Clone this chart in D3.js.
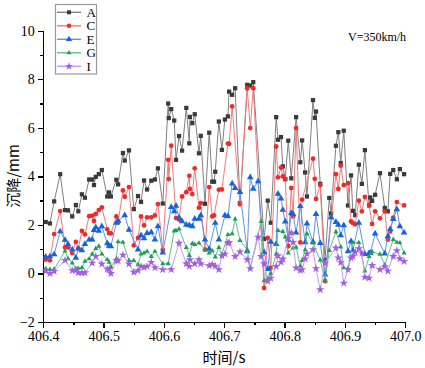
<!DOCTYPE html>
<html lang="zh">
<head>
  <meta charset="UTF-8">
  <title>沉降时程曲线</title>
  <script src="https://d3js.org/d3.v7.min.js"></script>
  <style>
    body { margin: 0; background: #fff; }
    svg { display: block; background: #fff; }
    .axis path,
    .axis line {
      stroke: #000;
      stroke-width: 1.3;
      shape-rendering: crispEdges;
    }
    .axis text {
      font-family: "Liberation Serif", serif;
      font-size: 14px;
      fill: #000;
    }
    .series-line { fill: none; stroke-width: 1; }
    .axis-title {
      font-family: "Noto Sans CJK SC", sans-serif;
      font-size: 15px;
      fill: #000;
    }
    .legend text, .note {
      font-family: "Liberation Serif", serif;
      font-size: 12px;
      fill: #000;
    }
    .legend text { font-size: 13px; }
  </style>
</head>
<body>
  <svg width="425" height="368"></svg>

  <script>
    const width = 425;
    const height = 368;

    // sample times (s)
    const times = [
      406.404, 406.411, 406.418, 406.428, 406.436, 406.441, 406.448, 406.454, 406.458, 406.464,
      406.469, 406.476, 406.481, 406.484, 406.487, 406.492, 406.497, 406.506, 406.509, 406.512,
      406.521, 406.524, 406.532, 406.535, 406.542, 406.550, 406.557, 406.562, 406.567, 406.572,
      406.579, 406.585, 406.590, 406.598, 406.607, 406.608, 406.612, 406.617, 406.620, 406.625,
      406.630, 406.637, 406.642, 406.643, 406.647, 406.651, 406.658, 406.661, 406.668, 406.675,
      406.680, 406.683, 406.685, 406.691, 406.696, 406.701, 406.706, 406.708, 406.713, 406.718,
      406.726, 406.738, 406.743, 406.748, 406.756, 406.761, 406.766, 406.772, 406.777, 406.786,
      406.789, 406.794, 406.797, 406.801, 406.806, 406.811, 406.814, 406.819, 406.826, 406.829,
      406.834, 406.837, 406.847, 406.850, 406.852, 406.859, 406.867, 406.874, 406.877, 406.885,
      406.889, 406.893, 406.898, 406.905, 406.910, 406.913, 406.917, 406.923, 406.928, 406.933,
      406.940, 406.942, 406.945, 406.950, 406.958, 406.966, 406.971, 406.975, 406.980, 406.986,
      406.991, 406.998
    ];

    // settlement (mm), null = no sample for that point
    const seriesA = [
      2.12, 2.06, 2.97, 4.09, 2.61, 2.60, 2.35, 2.82, 2.56, 3.26,
      3.12, 3.87, 3.87, 3.64, 3.98, 4.09, 4.26, 3.17, 3.34, 3.17,
      3.86, 3.67, 4.96, 4.65, 5.07, 2.65, 3.19, 2.95, 3.83, 3.46,
      3.82, 3.87, 4.33, 2.88, 7.00, 6.40, 6.77, 6.30, 4.68, 5.66,
      5.06, 6.82, 5.36, 6.45, 6.19, 6.56, 4.95, 5.67, 2.87, 5.80,
      3.78, 3.78, 4.19, 6.26, 5.09, 6.34, 6.47, 7.49, 7.36, 7.63,
      2.90, 7.77, 7.74, 7.88, null, null, 1.42, 3.00, 2.09, 6.44,
      5.51, 5.62, 4.41, 3.88, 5.47, 3.92, null, 6.44, 4.58, 5.48,
      4.16, 3.17, 7.14, 6.41, 6.67, 3.69, 0.55, 3.11, 2.47, 5.26,
      5.82, 4.55, 5.88, 2.80, 4.04, 2.58, 2.40, 4.48, 3.69, 5.08,
      2.80, 3.13, 2.99, 3.24, 4.13, 2.70, 2.56, 4.10, 4.26, 3.88,
      4.30, 4.09
    ];
    const seriesC = [
      0.57, 0.54, 1.62, 2.57, 1.07, 1.07, 0.84, 1.30, 1.03, 1.75,
      1.61, 2.36, 2.38, 2.16, 2.45, 2.61, 2.72, 1.82, 1.66, 1.65,
      2.35, 2.10, 3.42, 3.16, 3.56, 1.16, 1.46, 2.35, 1.98, 2.31,
      2.31, 2.39, 2.86, 0.97, 4.68, 3.89, 5.26, null, 2.28, 2.22,
      3.17, 3.35, 4.02, 3.48, 3.27, 4.33, 2.71, 2.90, 0.98, 3.56,
      2.35, 2.39, null, 3.45, 3.46, null, 5.35, 5.34, 6.88, null,
      2.85, 7.63, 5.99, 7.63, null, null, -0.60, 1.46, 0.23, 5.23,
      3.96, 4.36, 4.00, 3.90, 1.12, 3.52, 2.35, 5.99, 1.28, 3.04,
      null, null, 4.73, 3.90, 3.07, 3.64, -0.32, null, null, 4.09,
      3.48, 4.44, 3.64, 3.72, 2.14, 2.08, 2.02, 3.00, 2.56, 3.15,
      2.82, null, 2.04, 2.56, 2.27, 2.56, 1.39, 1.73, 2.30, 2.94,
      null, 2.80
    ];
    const seriesE = [
      0.69, 0.70, 0.79, 1.73, 1.38, 1.20, 0.98, 0.64, 1.02, 0.95,
      1.21, 1.39, 1.40, 1.79, 1.90, 1.76, 1.94, 1.24, 1.14, 1.12,
      2.08, 2.17, null, 2.39, 1.80, null, 0.98, 1.57, 1.45, 1.66,
      1.69, 1.40, 1.94, 0.86, null, null, 2.73, 2.56, 2.79, 2.30,
      2.15, 2.00, 1.98, null, 1.94, 2.25, 2.25, 2.39, 1.39, 1.01,
      null, null, 2.08, 1.39, null, 2.39, 2.35, null, 3.70, 3.52,
      3.35, 0.91, 3.96, 3.49, 3.79, null, 0.87, 0.18, 1.30, 1.21,
      3.28, 3.08, 2.62, 2.14, 1.40, 2.49, 2.45, 1.68, 2.77, null,
      1.28, 2.05, 1.30, null, 2.45, 1.25, -0.05, null, 2.31, 2.12,
      2.00, 1.57, 1.98, 0.91, 1.32, 0.95, null, 2.09, null, 0.80,
      0.84, 0.84, null, 1.64, null, 0.82, 1.53, 1.83, 2.24, 2.64,
      1.94, 1.68
    ];
    const seriesG = [
      0.19, 0.16, 0.17, null, 0.92, 0.61, 0.43, 0.19, 0.21, 0.24,
      0.50, 0.60, 0.80, null, 1.03, 1.12, 0.80, 0.57, 0.46, 0.28,
      0.60, 1.31, 1.28, null, 0.53, 0.53, 0.36, 0.80, 0.84, 0.91,
      0.70, 0.91, null, 0.40, 0.40, null, null, 1.75, 1.77, 1.83,
      null, 1.07, 0.74, null, 1.23, 1.19, 1.25, null, 0.98, 0.84,
      0.93, null, 0.68, 1.07, 0.77, null, 1.60, null, 1.64, 2.24,
      1.36, 0.98, 0.23, null, null, 2.14, -0.30, -0.20, 0.00, 0.80,
      1.77, null, 1.73, 1.50, 0.84, null, 1.05, 1.08, 0.31, 0.53,
      0.98, 1.64, 1.25, null, null, 0.55, -0.28, 0.95, null, 1.72,
      null, 1.09, 0.23, 0.20, null, 1.28, null, 1.27, null, 0.10,
      0.70, null, 0.89, null, 0.79, 0.35, null, null, 1.40, 1.28,
      1.26, 0.84
    ];
    const seriesI = [
      0.10, 0.00, 0.09, null, 0.54, null, 0.12, 0.14, 0.03, 0.03,
      0.03, null, 0.43, null, 0.70, null, 0.39, 0.18, 0.17, 0.00,
      0.53, 0.53, 0.76, null, 0.39, 0.05, 0.12, 0.29, 0.25, 0.29,
      0.46, 0.24, null, 0.16, null, null, 0.16, null, null, 1.25,
      null, 0.40, 0.29, 0.57, null, 0.40, 0.57, 0.40, null, 0.32,
      0.37, null, 0.30, 0.16, 0.73, 0.80, 1.25, 1.28, null, 0.70,
      0.89, 0.57, 0.20, null, 1.50, 0.70, 0.40, -0.32, -0.19, 0.29,
      0.73, 0.46, 0.60, null, 1.45, 1.67, 1.28, 0.23, 0.13, 0.16,
      0.60, 0.81, 0.98, null, 0.20, -0.67, 0.43, null, null, 1.05,
      0.64, 0.45, -0.40, 0.16, 0.64, 0.70, 0.87, 1.02, 0.84, -0.15,
      -0.19, null, 0.33, null, 0.16, 0.27, 0.10, null, 0.70, 0.94,
      0.61, 0.50
    ];

    const seriesNames = ["A", "C", "E", "G", "I"];
    const xTicks = [406.4, 406.5, 406.6, 406.7, 406.8, 406.9, 407.0];
    const xMinorTicks = [406.45, 406.55, 406.65, 406.75, 406.85, 406.95];
    const yTicks = [-2, 0, 2, 4, 6, 8, 10];
    const yMinorTicks = [-1, 1, 3, 5, 7, 9];

    const styles = [
      { values: seriesA, mark: "#3a3a3a", line: "#808080", symbol: d3.symbolSquare, size: 18 },
      { values: seriesC, mark: "#ee2b2b", line: "#f27a7a", symbol: d3.symbolCircle, size: 18 },
      { values: seriesE, mark: "#1664d9", line: "#5c95e8", symbol: d3.symbolTriangle, size: 19 },
      { values: seriesG, mark: "#1f9d55", line: "#62bd88", symbol: d3.symbolTriangle2, size: 19 },
      { values: seriesI, mark: "#a45de2", line: "#c69cf0", symbol: d3.symbolStar, size: 22 }
    ];

    const svg = d3.select("svg")
      .attr("width", width)
      .attr("height", height);

    const xScale = d3.scaleLinear().domain([406.4, 407.0]).range([43.3, 405.3]);
    const yScale = d3.scaleLinear().domain([-2, 10]).range([322, 30.7]);

    // minor ticks first, then the major axes on top
    svg.append("g")
      .attr("class", "axis")
      .attr("transform", `translate(0,${yScale(-2)})`)
      .call(d3.axisBottom(xScale).tickValues(xMinorTicks).tickSize(3).tickFormat(""))
      .call(g => g.select(".domain").remove());

    svg.append("g")
      .attr("class", "axis")
      .attr("transform", `translate(${xScale(406.4)},0)`)
      .call(d3.axisLeft(yScale).tickValues(yMinorTicks).tickSize(3).tickFormat(""))
      .call(g => g.select(".domain").remove());

    svg.append("g")
      .attr("class", "axis")
      .attr("transform", `translate(0,${yScale(-2)})`)
      .call(d3.axisBottom(xScale).tickValues(xTicks).tickSize(5.5).tickSizeOuter(0)
        .tickPadding(4).tickFormat(d3.format(".1f")));

    svg.append("g")
      .attr("class", "axis")
      .attr("transform", `translate(${xScale(406.4)},0)`)
      .call(d3.axisLeft(yScale).tickValues(yTicks).tickSize(5.5).tickSizeOuter(0)
        .tickPadding(3).tickFormat(d3.format("d")));

    // lines then markers
    styles.forEach(s => {
      const pts = times.map((t, i) => ({ t: t, v: s.values[i] })).filter(d => d.v !== null);

      const line = d3.line()
        .x(d => xScale(d.t))
        .y(d => yScale(d.v));

      svg.append("path")
        .datum(pts)
        .attr("class", "series-line")
        .attr("stroke", s.line)
        .attr("d", line);

      svg.append("g")
        .selectAll("path")
        .data(pts)
        .join("path")
        .attr("transform", d => `translate(${xScale(d.t)},${yScale(d.v)})`)
        .attr("d", d3.symbol().type(s.symbol).size(s.size))
        .attr("fill", s.mark);
    });

    // legend box
    const legend = svg.append("g").attr("class", "legend");
    legend.append("rect")
      .attr("x", 55.5)
      .attr("y", 4.5)
      .attr("width", 41)
      .attr("height", 69.5)
      .attr("fill", "#fff")
      .attr("stroke", "#9a9a9a")
      .attr("stroke-width", 1.2);

    seriesNames.forEach((name, i) => {
      const s = styles[i];
      const ly = 12.3 + i * 13.5;
      legend.append("line")
        .attr("x1", 57).attr("x2", 81)
        .attr("y1", ly).attr("y2", ly)
        .attr("stroke", s.line)
        .attr("stroke-width", 1.4);
      legend.append("path")
        .attr("transform", `translate(69,${ly})`)
        .attr("d", d3.symbol().type(s.symbol).size(s.size - 2))
        .attr("fill", s.mark);
      legend.append("text")
        .attr("x", 86.5)
        .attr("y", ly + 4.5)
        .text(name);
    });

    // speed note
    svg.append("text")
      .attr("class", "note")
      .attr("x", 348)
      .attr("y", 41)
      .text("V=350km/h");

    // axis titles
    svg.append("text")
      .attr("class", "axis-title")
      .attr("x", 224)
      .attr("y", 363)
      .attr("text-anchor", "middle")
      .text("时间/s");

    svg.append("text")
      .attr("class", "axis-title")
      .attr("transform", "translate(19,176) rotate(-90)")
      .attr("text-anchor", "middle")
      .text("沉降/mm");
  </script>
</body>
</html>
